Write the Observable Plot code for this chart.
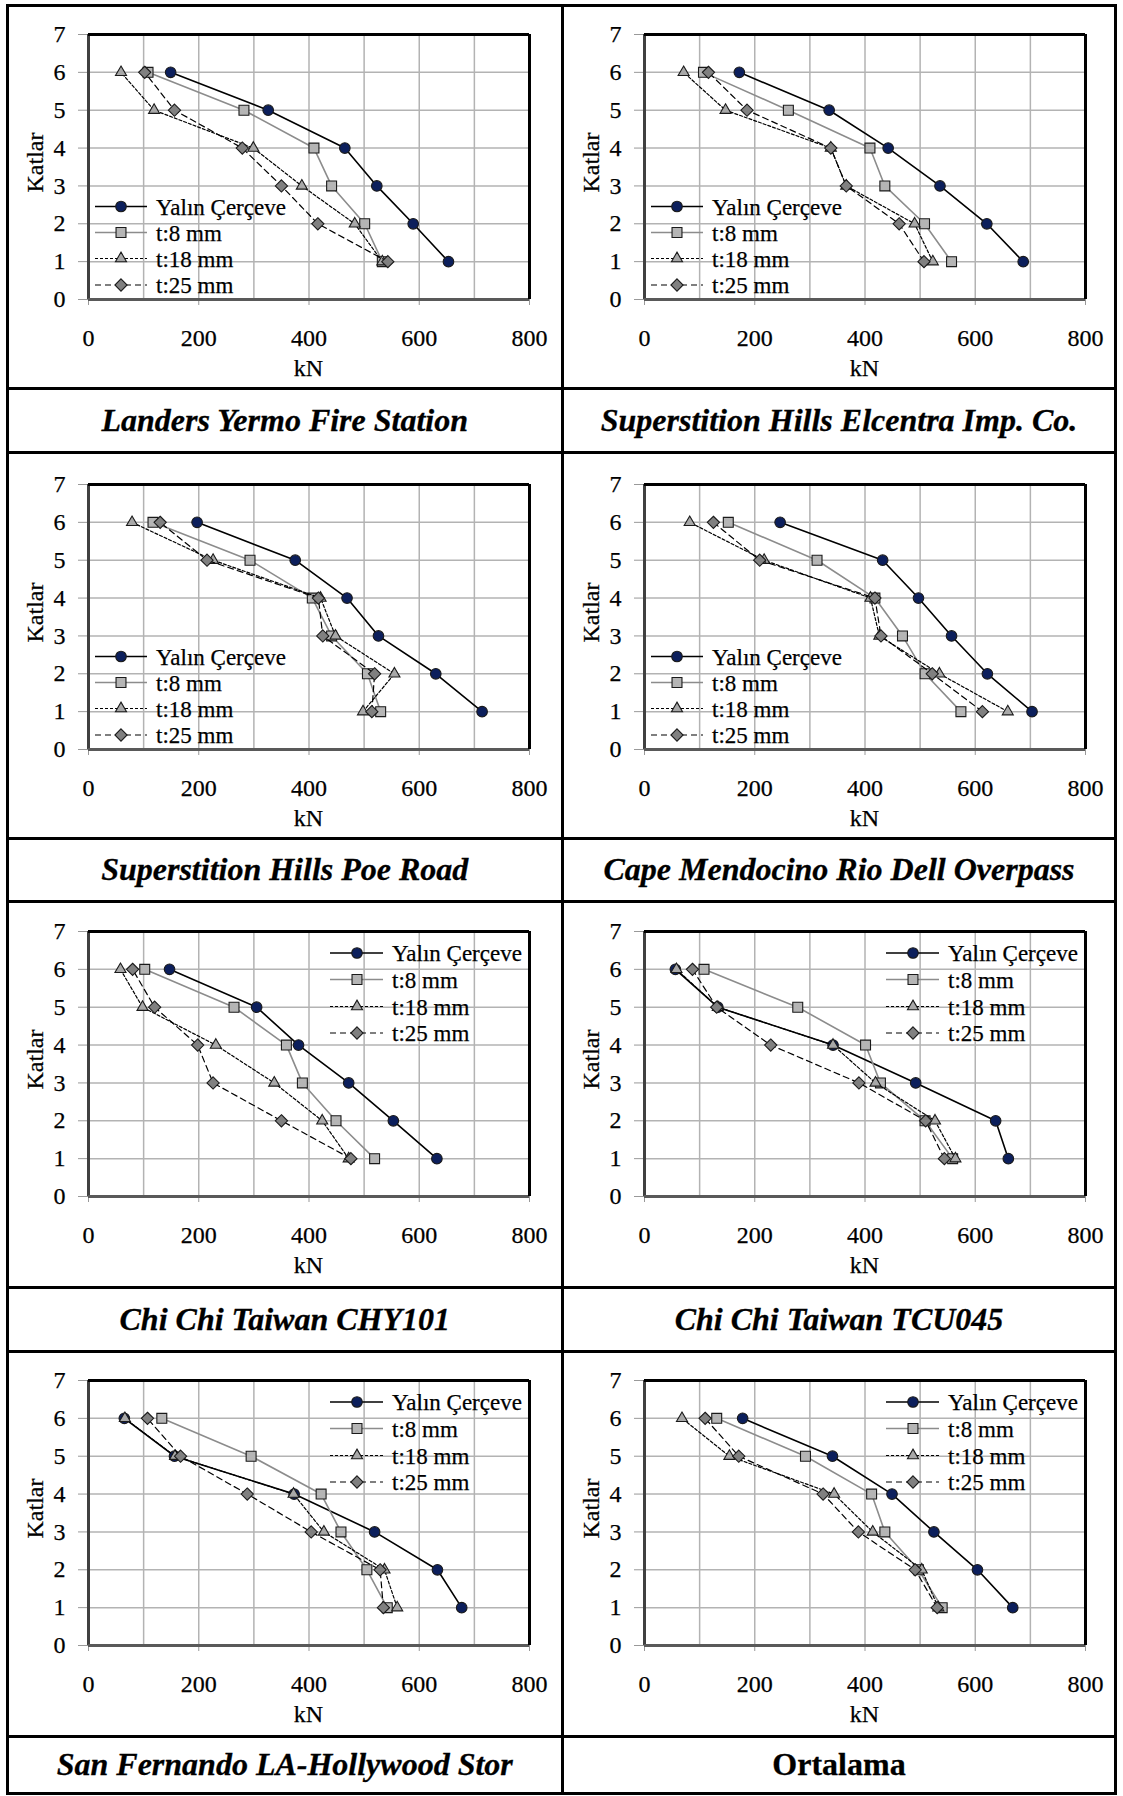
<!DOCTYPE html>
<html>
<head>
<meta charset="utf-8">
<script src="https://cdn.jsdelivr.net/npm/d3@7"></script>
<script src="https://cdn.jsdelivr.net/npm/@observablehq/plot@0.6"></script>
<style>
  body { margin: 0; background: #fff; }
  #page { position: relative; width: 1123px; height: 1796px; background: #fff; overflow: hidden;
          font-family: "Liberation Serif", "Times New Roman", serif; }
  .ln { position: absolute; background: #000; z-index: 5; }
  .title { position: absolute; display: flex; align-items: center; justify-content: center;
           font-weight: bold; font-style: italic; font-size: 32px; color: #000; white-space: nowrap;
           -webkit-text-stroke: 0.3px #000; }
  .chart { position: absolute; z-index: 2; }
  .chart svg, .chart svg text { font-family: "Liberation Serif", "Times New Roman", serif !important; }
  .chart svg text { stroke: #000; stroke-width: 0.25px; }
</style>
</head>
<body>
<div id="page"></div>
<script>
// ---------------- data (kN per floor, floors 1..6) ----------------
const katlar = [1, 2, 3, 4, 5, 6];
const seriesNames = ["Yalın Çerçeve", "t:8 mm", "t:18 mm", "t:25 mm"];
const titles = [
  "Landers Yermo Fire Station",
  "Superstition Hills Elcentra Imp. Co.",
  "Superstition Hills Poe Road",
  "Cape Mendocino Rio Dell Overpass",
  "Chi Chi Taiwan CHY101",
  "Chi Chi Taiwan TCU045",
  "San Fernando LA-Hollywood Stor",
  "Ortalama"
];
const xTicks = [0, 200, 400, 600, 800];
const xGridValues = [100, 200, 300, 400, 500, 600, 700];
const yTicks = [0, 1, 2, 3, 4, 5, 6, 7];
const yGridValues = [1, 2, 3, 4, 5, 6];

const landersYalin = [653, 589, 523, 465, 326, 149];
const landersT8    = [533, 501, 441, 409, 282, 108];
const landersT18   = [533, 483, 387, 299, 119, 59];
const landersT25   = [543, 416, 350, 279, 156, 102];

const elcentraYalin = [687, 621, 536, 442, 335, 172];
const elcentraT8    = [557, 508, 436, 409, 261, 107];
const elcentraT18   = [523, 490, 366, 338, 147, 71];
const elcentraT25   = [507, 462, 366, 338, 186, 116];

const poeYalin = [714, 630, 526, 469, 375, 197];
const poeT8    = [530, 506, 441, 406, 293, 117];
const poeT18   = [498, 555, 448, 421, 226, 79];
const poeT25   = [514, 519, 425, 417, 215, 130];

const capeYalin = [703, 622, 557, 497, 432, 246];
const capeT8    = [574, 509, 468, 418, 313, 152];
const capeT18   = [659, 535, 426, 410, 217, 82];
const capeT25   = [613, 522, 429, 418, 209, 125];

const chy101Yalin = [632, 553, 472, 381, 305, 147];
const chy101T8    = [519, 449, 388, 359, 264, 102];
const chy101T18   = [472, 424, 337, 231, 98, 58];
const chy101T25   = [476, 350, 226, 198, 120, 80];

const tcu045Yalin = [660, 637, 492, 342, 133, 56];
const tcu045T8    = [559, 509, 428, 401, 278, 108];
const tcu045T18   = [564, 527, 419, 342, 133, 58];
const tcu045T25   = [544, 510, 389, 229, 131, 87];

const sanFerYalin = [677, 633, 519, 373, 156, 65];
const sanFerT8    = [542, 505, 458, 422, 295, 133];
const sanFerT18   = [560, 537, 427, 372, 157, 66];
const sanFerT25   = [535, 529, 404, 288, 167, 107];

const ortYalin = [668, 604, 525, 449, 341, 178];
const ortT8    = [540, 497, 436, 412, 292, 131];
const ortT18   = [533, 503, 414, 344, 154, 68];
const ortT25   = [531, 491, 388, 324, 171, 110];

const chartSeries = [
  [landersYalin, landersT8, landersT18, landersT25],
  [elcentraYalin, elcentraT8, elcentraT18, elcentraT25],
  [poeYalin, poeT8, poeT18, poeT25],
  [capeYalin, capeT8, capeT18, capeT25],
  [chy101Yalin, chy101T8, chy101T18, chy101T25],
  [tcu045Yalin, tcu045T8, tcu045T18, tcu045T25],
  [sanFerYalin, sanFerT8, sanFerT18, sanFerT25],
  [ortYalin, ortT8, ortT18, ortT25]
];

// ---------------- styles ----------------
const FONT = '"Liberation Serif", "Times New Roman", serif';
const styles = [
  { stroke: "#000", sw: 1.6, dash: null,  symbol: "circle",   d3sym: d3.symbolCircle,   r: 5.3, fill: "#0c1f5c" },
  { stroke: "#8c8c8c", sw: 1.6, dash: null, symbol: "square", d3sym: d3.symbolSquare,   r: 5.6, fill: "#b5b5b5" },
  { stroke: "#000", sw: 1.2, dash: "3,2", symbol: "triangle", d3sym: d3.symbolTriangle, r: 4.1, fill: "#a8a8a8" },
  { stroke: "#000", sw: 1.2, dash: "6,4", symbol: "diamond2", d3sym: d3.symbolDiamond2, r: 5.5, fill: "#808080" }
];

// ---------------- layout ----------------
const page = document.getElementById("page");
const colPlotLeft = [88, 644];
const rowPlotTop = [33.5, 483.5, 931, 1380];
const PW = 441, PH = 265;
const ML = 82, MR = 30, MT = 22, MB = 90;
const W = ML + PW + MR, H = MT + PH + MB;

const hLines = [5, 388.5, 452, 838, 901.5, 1287, 1351.5, 1736, 1793.5];
const vLines = [7, 562.5, 1115.5];
const titleTops = [388.5, 838, 1287, 1736];
const titleBottoms = [452, 901.5, 1351.5, 1793.5];
const LT = 3;

hLines.forEach(y => {
  const d = document.createElement("div");
  d.className = "ln";
  Object.assign(d.style, { left: (vLines[0] - LT / 2) + "px", top: (y - LT / 2) + "px",
    width: (vLines[2] - vLines[0] + LT) + "px", height: LT + "px" });
  page.appendChild(d);
});
vLines.forEach(x => {
  const d = document.createElement("div");
  d.className = "ln";
  Object.assign(d.style, { left: (x - LT / 2) + "px", top: (hLines[0] - LT / 2) + "px",
    width: LT + "px", height: (hLines[hLines.length - 1] - hLines[0] + LT) + "px" });
  page.appendChild(d);
});

function makeChart(idx) {
  const row = Math.floor(idx / 2), col = idx % 2;
  const series = chartSeries[idx];
  const marks = [
    Plot.gridX(xGridValues, { stroke: "#b3b3b3", strokeOpacity: 1, strokeWidth: 1.5 }),
    Plot.gridY(yGridValues, { stroke: "#b3b3b3", strokeOpacity: 1, strokeWidth: 1.5 }),
    Plot.ruleX([xTicks[0]], { stroke: "#404040", strokeWidth: 3 }),
    Plot.ruleY([yTicks[0]], { stroke: "#595959", strokeWidth: 3 }),
    Plot.ruleY([yTicks[yTicks.length - 1]], { stroke: "#000", strokeWidth: 3 }),
    Plot.ruleX([xTicks[xTicks.length - 1]], { stroke: "#000", strokeWidth: 3 })
  ];
  series.forEach((vals, si) => {
    const s = styles[si];
    const rows = katlar.map((k, i) => ({ kat: k, kn: vals[i] }));
    marks.push(Plot.line(rows, { x: "kn", y: "kat", stroke: s.stroke, strokeWidth: s.sw,
      strokeDasharray: s.dash || undefined }));
    marks.push(Plot.dot(rows, { x: "kn", y: "kat", symbol: s.symbol, r: s.r, fill: s.fill,
      stroke: "#1a1a1a", strokeWidth: 1.1 }));
  });
  const svg = Plot.plot({
    width: W, height: H,
    marginLeft: ML, marginRight: MR, marginTop: MT, marginBottom: MB,
    style: { fontFamily: FONT, fontSize: "24px", background: "transparent", overflow: "visible", color: "#000" },
    x: { domain: [xTicks[0], xTicks[xTicks.length - 1]], ticks: xTicks, tickFormat: d3.format("d"),
         tickSize: 6, tickPadding: 23, label: null },
    y: { domain: [yTicks[0], yTicks[yTicks.length - 1]], ticks: yTicks, tickFormat: d3.format("d"),
         tickSize: 10, tickPadding: 13, label: null },
    marks
  });
  const sel = d3.select(svg);
  sel.attr("font-family", FONT);
  sel.selectAll('g[aria-label="x-axis tick"], g[aria-label="y-axis tick"]').attr("stroke", "#999");

  const pL = ML, pT = MT, pR = ML + PW, pB = MT + PH;
  // axis titles
  sel.append("text").attr("x", pL + PW / 2).attr("y", pB + 69).attr("dy", "0.35em")
    .attr("text-anchor", "middle").attr("font-size", 24).attr("fill", "#000").text("kN");
  sel.append("text").attr("transform", `translate(${pL - 53},${(pT + pB) / 2 - 4}) rotate(-90)`)
    .attr("dy", "0.35em").attr("text-anchor", "middle").attr("font-size", 24).attr("fill", "#000").text("Katlar");

  // legend
  const lowerLeft = row < 2;
  let ys, x0, x1, xm, xt;
  if (lowerLeft) {
    ys = [-92.5, -66.5, -40.5, -14].map(d => pB + d);
    x0 = pL + 7; x1 = pL + 59; xm = pL + 33; xt = pL + 68;
  } else {
    ys = [22, 48.5, 75.5, 102].map(d => pT + d);
    x0 = pR - 199; x1 = pR - 146; xm = pR - 172; xt = pR - 137;
  }
  const lg = sel.append("g").attr("class", "legend");
  seriesNames.forEach((name, i) => {
    const s = styles[i];
    lg.append("line").attr("x1", x0).attr("x2", x1).attr("y1", ys[i]).attr("y2", ys[i])
      .attr("stroke", s.stroke).attr("stroke-width", s.sw).attr("stroke-dasharray", s.dash);
    lg.append("path").attr("d", d3.symbol(s.d3sym, Math.PI * s.r * s.r)())
      .attr("transform", `translate(${xm},${ys[i]})`)
      .attr("fill", s.fill).attr("stroke", "#1a1a1a").attr("stroke-width", 1.1);
    lg.append("text").attr("x", xt).attr("y", ys[i]).attr("dy", "0.35em")
      .attr("text-anchor", "start").attr("font-size", 23).attr("fill", "#000").text(name);
  });
  sel.selectAll("text").style("font-family", FONT);

  const div = document.createElement("div");
  div.className = "chart";
  Object.assign(div.style, { left: (colPlotLeft[col] - ML) + "px", top: (rowPlotTop[row] - MT) + "px",
    width: W + "px", height: H + "px" });
  div.appendChild(svg);
  page.appendChild(div);

  // title cell
  const t = document.createElement("div");
  t.className = "title";
  const cl = vLines[col] + LT / 2, cr = vLines[col + 1] - LT / 2;
  const ct = titleTops[row] + LT / 2, cb = titleBottoms[row] - LT / 2;
  Object.assign(t.style, { left: cl + "px", top: ct + "px", width: (cr - cl) + "px", height: (cb - ct) + "px" });
  if (idx === 7) t.style.fontStyle = "normal";
  t.textContent = titles[idx];
  page.appendChild(t);
}

for (let i = 0; i < 8; i++) makeChart(i);
</script>
</body>
</html>
